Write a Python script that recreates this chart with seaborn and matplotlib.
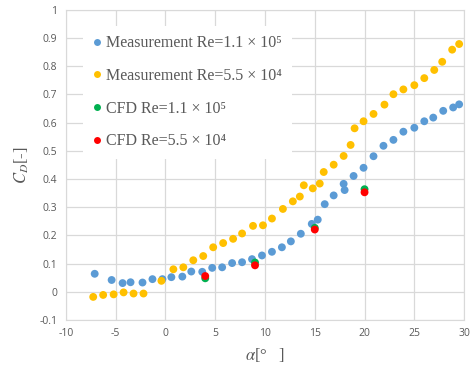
import matplotlib.pyplot as plt
import matplotlib.lines as mlines
import pandas
import seaborn as sns

# angle of attack [deg] and drag coefficient
alphaBlue = [-7.1, -5.4, -4.3, -3.5, -2.3, -1.3, -0.3, 0.6, 1.7, 2.6, 3.7, 4.7, 5.7, 6.7,
             7.7, 8.7, 9.7, 10.7, 11.7, 12.6, 13.6, 14.7, 15.3, 16.0, 16.9, 17.9, 18.0,
             18.9, 19.9, 20.9, 21.9, 22.9, 23.9, 25.0, 26.0, 26.9, 27.9, 28.9, 29.5]
cdBlue = [0.064, 0.042, 0.031, 0.034, 0.033, 0.045, 0.045, 0.052, 0.054, 0.072, 0.071, 0.085,
          0.087, 0.102, 0.105, 0.116, 0.129, 0.142, 0.158, 0.179, 0.206, 0.241, 0.256, 0.311,
          0.342, 0.383, 0.361, 0.411, 0.440, 0.481, 0.518, 0.539, 0.568, 0.582, 0.605, 0.618,
          0.642, 0.654, 0.665]

alphaOrange = [-7.25, -6.25, -5.2, -4.2, -3.2, -2.2, -0.4, 0.8, 1.8, 2.8, 3.8, 4.8, 5.8, 6.8,
               7.7, 8.8, 9.8, 10.7, 11.8, 12.8, 13.5, 13.9, 14.8, 15.5, 15.9, 16.9, 17.9,
               18.6, 19.0, 19.9, 20.9, 22.0, 22.9, 23.9, 25.0, 26.0, 27.0, 27.8, 28.8, 29.5]
cdOrange = [-0.018, -0.011, -0.009, -0.002, -0.006, -0.006, 0.039, 0.080, 0.087, 0.112, 0.127,
            0.158, 0.173, 0.188, 0.207, 0.234, 0.236, 0.260, 0.294, 0.321, 0.338, 0.378, 0.367,
            0.384, 0.425, 0.451, 0.482, 0.521, 0.580, 0.605, 0.631, 0.664, 0.701, 0.718, 0.733,
            0.758, 0.787, 0.816, 0.859, 0.879]

alphaCfd = [4, 9, 15, 20]
cdCfdGreen = [0.048, 0.104, 0.227, 0.364]
cdCfdRed = [0.056, 0.094, 0.221, 0.353]

labels = ['Measurement Re=1.1 × 10⁵', 'Measurement Re=5.5 × 10⁴',
          'CFD Re=1.1 × 10⁵', 'CFD Re=5.5 × 10⁴']
colors = ['#5B9BD5', '#FFC000', '#00B050', '#FF0000']

sns.set_style('white')
plt.rcParams['mathtext.fontset'] = 'stix'
plt.rcParams['axes.unicode_minus'] = False

fig, ax = plt.subplots(figsize=(4.77, 3.67), dpi=100)
fig.subplots_adjust(left=0.138, right=0.973, top=0.973, bottom=0.128)

series = [(alphaBlue, cdBlue), (alphaOrange, cdOrange), (alphaCfd, cdCfdGreen), (alphaCfd, cdCfdRed)]
for (xs, ys), col in zip(series, colors):
    df = pandas.DataFrame({'alpha': xs, 'cd': ys})
    sns.scatterplot(data=df, x='alpha', y='cd', color=col, s=32, edgecolor='none', ax=ax, zorder=3)

ax.set_xlim(-10, 30)
ax.set_ylim(-0.1, 1.0)
ax.set_xticks(range(-10, 31, 5))
ax.set_yticks([i / 10 for i in range(-1, 11)])
ax.set_yticklabels(['-0.1', '0'] + [f'{i / 10:g}' for i in range(1, 11)])
ax.grid(True, color='#D9D9D9', linewidth=0.9)
ax.set_axisbelow(True)
for sp in ax.spines.values():
    sp.set_color('#D9D9D9')
ax.tick_params(length=0, labelsize=7.5, labelcolor='#595959', pad=6)
for t in ax.get_xticklabels() + ax.get_yticklabels():
    t.set_family('Open Sans')

ax.set_xlabel(r'$\alpha$[°   ]', fontsize=12, color='#595959', family='Liberation Serif', labelpad=5)
ax.set_ylabel(r'$C_D$[-]', fontsize=12, color='#595959', family='Liberation Serif', labelpad=6)

handles = [mlines.Line2D([], [], linestyle='none', marker='o', markersize=5,
                         markerfacecolor=c, markeredgecolor='none') for c in colors]
leg = ax.legend(handles, labels, loc='upper left', bbox_to_anchor=(0.035, 0.96),
                frameon=True, facecolor='white', edgecolor='none', framealpha=1,
                prop={'family': ['Liberation Serif', 'DejaVu Serif'], 'size': 11.5},
                labelspacing=1.05, handlelength=0.6, handletextpad=0.25, borderpad=0.6,
                borderaxespad=0.2, fancybox=False)
for t in leg.get_texts():
    t.set_color('#595959')

plt.savefig('out.png', dpi=100)
